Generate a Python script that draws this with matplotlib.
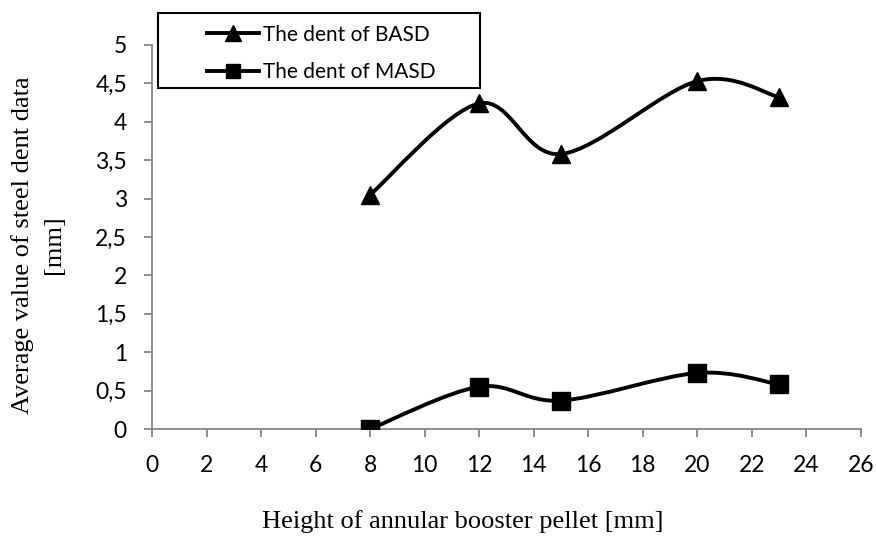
import numpy as np
import matplotlib
matplotlib.use('Agg')
import matplotlib.pyplot as plt
from matplotlib.path import Path
from matplotlib.patches import PathPatch, Rectangle
from matplotlib.lines import Line2D

# pellet height [mm]
heights = [8, 12, 15, 20, 23]
basd_dent = [3.05, 4.24, 3.58, 4.53, 4.32]
masd_dent = [0.0, 0.55, 0.37, 0.73, 0.58]

x_ticks = list(range(0, 27, 2))
y_ticks = [0, 0.5, 1, 1.5, 2, 2.5, 3, 3.5, 4, 4.5, 5]
y_tick_labels = ['0', '0,5', '1', '1,5', '2', '2,5', '3', '3,5', '4', '4,5', '5']

series_names = ['The dent of BASD', 'The dent of MASD']

tick_font = 'Lato'
label_font = 'Liberation Serif'


def smooth_path(xs, ys):
    # excel-like smoothed line: cubic bezier between points
    pts = np.column_stack([xs, ys]).astype(float)
    n = len(pts)
    verts = [pts[0]]
    codes = [Path.MOVETO]
    for i in range(n - 1):
        p_prev = pts[i - 1] if i > 0 else pts[i]
        p_next2 = pts[i + 2] if i + 2 < n else pts[i + 1]
        c1 = pts[i] + (pts[i + 1] - p_prev) / 6.0
        c2 = pts[i + 1] - (p_next2 - pts[i]) / 6.0
        verts += [c1, c2, pts[i + 1]]
        codes += [Path.CURVE4] * 3
    return Path(verts, codes)


fig = plt.figure(figsize=(8.76, 5.37), dpi=100)
ax = fig.add_axes([152 / 876, 1 - 429 / 537, (861 - 152) / 876, (429 - 45) / 537])

spine_col = '#868686'
lw = 2.8

for ys, mk, ms in [(basd_dent, '^', 13), (masd_dent, 's', 12.5)]:
    ax.add_patch(PathPatch(smooth_path(heights, ys), facecolor='none', edgecolor='black',
                           linewidth=lw, capstyle='round', joinstyle='round', zorder=3))
    ax.plot(heights, ys, linestyle='none', marker=mk, markersize=ms, color='black', zorder=4)

ax.set_xlim(0, 26)
ax.set_ylim(0, 5)
ax.set_xticks(x_ticks)
ax.set_xticklabels([str(t) for t in x_ticks], fontfamily=tick_font, fontsize=16.5)
ax.set_yticks(y_ticks)
ax.set_yticklabels(y_tick_labels, fontfamily=tick_font, fontsize=16.5)
ax.tick_params(axis='both', direction='out', length=6, width=1.3, color=spine_col)
ax.tick_params(axis='x', pad=13)
ax.tick_params(axis='y', pad=12)

for side in ['top', 'right']:
    ax.spines[side].set_visible(False)
for side in ['left', 'bottom']:
    ax.spines[side].set_color(spine_col)
    ax.spines[side].set_linewidth(1.3)

fig.text(38 / 876, 1 - 245 / 537, 'Average value of steel dent data\n[mm]', rotation=90,
         ha='center', va='center', fontfamily=label_font, fontsize=19, linespacing=1.5)
fig.text(463 / 876, 1 - 522 / 537, 'Height of annular booster pellet [mm]',
         ha='center', va='center', fontfamily=label_font, fontsize=19)

# legend box
fig.patches.append(Rectangle((158 / 876, 1 - 88 / 537), (480 - 158) / 876, (88 - 13) / 537,
                             transform=fig.transFigure, facecolor='white', edgecolor='black',
                             linewidth=1.5, zorder=5))
handles = [Line2D([], [], color='black', linewidth=lw, marker='^', markersize=11),
           Line2D([], [], color='black', linewidth=lw, marker='s', markersize=10)]
leg = fig.legend(handles, series_names, loc='upper left', bbox_to_anchor=(192 / 876, 1 - 10 / 537),
                 frameon=False, handlelength=2.5, handletextpad=0.2, labelspacing=0.85,
                 borderpad=0.2, prop={'family': tick_font, 'size': 15})
leg.set_zorder(6)

fig.savefig('out.png', dpi=100)
